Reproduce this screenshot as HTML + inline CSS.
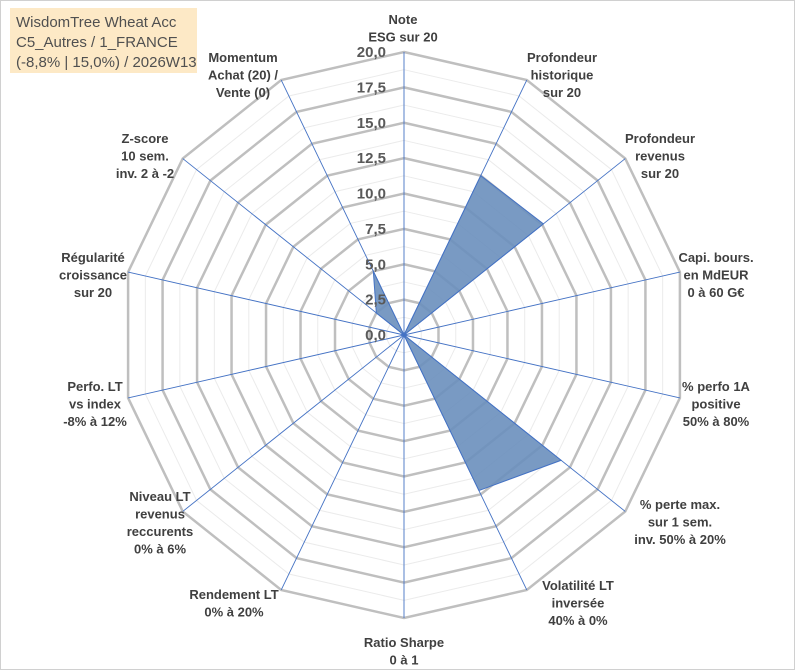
<!DOCTYPE html>
<html><head><meta charset="utf-8"><style>
body{margin:0;background:#fff}
svg{display:block}
text{font-family:"Liberation Sans",sans-serif}
</style></head><body>
<svg id="c" width="801" height="671" xmlns="http://www.w3.org/2000/svg">
<rect x="0.5" y="0.5" width="794" height="669" fill="#fff" stroke="#d0d0d0"/>
<rect x="10" y="8" width="187" height="65" fill="#fde9c6"/>
<text x="16" y="27" font-size="15" fill="#505050">WisdomTree Wheat Acc</text>
<text x="16" y="47" font-size="15" fill="#505050">C5_Autres / 1_FRANCE</text>
<text x="16" y="67" font-size="15" fill="#505050">(-8,8% | 15,0%) / 2026W13</text>
<g id="grid"></g><g id="series"></g><g id="labels"></g>
</svg>
<script>
const categories=[["Note","ESG sur 20"],["Profondeur","historique","sur 20"],["Profondeur","revenus","sur 20"],["Capi. bours.","en MdEUR","0 à 60 G€"],["% perfo 1A","positive","50% à 80%"],["% perte max.","sur 1 sem.","inv. 50% à 20%"],["Volatilité LT","inversée","40% à 0%"],["Ratio Sharpe","0 à 1"],["Rendement LT","0% à 20%"],["Niveau LT","revenus","reccurents","0% à 6%"],["Perfo. LT","vs index","-8% à 12%"],["Régularité","croissance","sur 20"],["Z-score","10 sem.","inv. 2 à -2"],["Momentum","Achat (20) /","Vente (0)"]];
const values=[0,12.5,12.6,0,0,14.2,12.2,0,0,0,0,0,2.5,5];
const tickLabels=["0,0","2,5","5,0","7,5","10,0","12,5","15,0","17,5","20,0"];
const labelPos=[[403,14],[562,52],[660,133],[716,252],[716,381],[680,499],[578,580],[404,637],[234,589],[160,491],[95,381],[93,252],[145,133],[243,52]];
const NS="http://www.w3.org/2000/svg",cx=404,cy=335,R=283,maxV=20,n=categories.length;
function pt(i,v){const a=i*2*Math.PI/n;const r=v/maxV*R;return [cx+r*Math.sin(a),cy-r*Math.cos(a)];}
function mk(t,at,p){const e=document.createElementNS(NS,t);for(const k in at)e.setAttribute(k,at[k]);p.appendChild(e);return e;}
const g=document.getElementById('grid');
for(let k=1;k<=16;k++){const v=k*1.25;const pts=[];for(let i=0;i<n;i++)pts.push(pt(i,v).join(','));
const e=mk('polygon',{points:pts.join(' '),fill:'none',stroke:k%2?'#ebebeb':'#bfbfbf','stroke-width':k%2?1:2.5},g);

}
for(let i=0;i<n;i++){const p=pt(i,maxV);const e=mk('line',{x1:cx,y1:cy,x2:p[0],y2:p[1],stroke:'#4472c4','stroke-width':0.9},g);

}
const s=document.getElementById('series');
const sp=values.map((v,i)=>pt(i,v).join(','));
const poly=mk('polygon',{points:sp.join(' '),fill:'#6a8fbd','fill-opacity':0.9,stroke:'#4472c4','stroke-width':1},s);


const L=document.getElementById('labels');
tickLabels.forEach((t,k)=>{const y=cy-(k*2.5)/maxV*R;const e=mk('text',{x:386,y:y+5,'text-anchor':'end','font-size':15,'font-weight':'bold',fill:'#595959'},L);e.textContent=t;

});
categories.forEach((lines,i)=>{const [x,y]=labelPos[i];const e=mk('text',{x:x,y:y+10,'text-anchor':'middle','font-size':13,'font-weight':'bold',fill:'#404040'},L);


lines.forEach((ln,j)=>{const ts=mk('tspan',{x:x,dy:j?17.5:0},e);ts.textContent=ln;});});
</script>
</body></html>
